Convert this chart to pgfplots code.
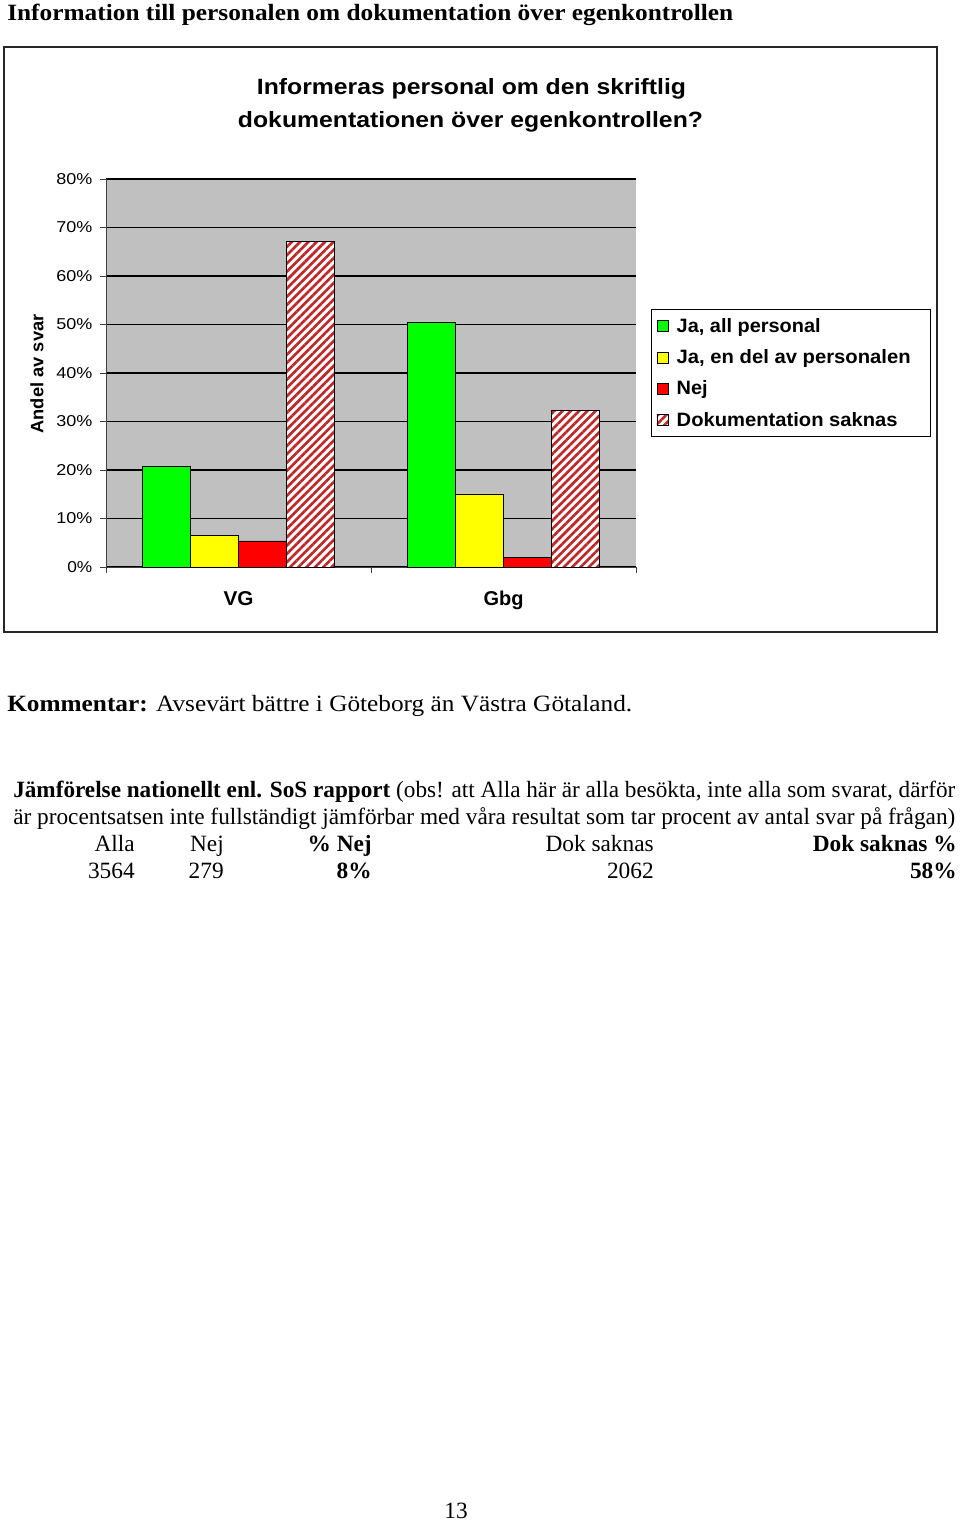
\documentclass[border=0pt]{standalone}
\usepackage{pgfplots}
\pgfplotsset{compat=1.18}
\usepackage{graphicx}
\usepackage{fontspec}
\setmainfont{Liberation Serif}
\newfontfamily\arial{Liberation Sans}
\usetikzlibrary{patterns.meta}

\definecolor{plotgray}{RGB}{192,192,192}
\definecolor{barGreen}{RGB}{0,255,0}
\definecolor{barYellow}{RGB}{255,255,0}
\definecolor{barRed}{RGB}{255,0,0}
\definecolor{hatchRed}{RGB}{190,40,40}

\newcommand\fitw[2]{\resizebox{#1}{\height}{#2}}

\pgfplotsset{sq/.style={legend image code/.code={\draw[##1, draw=black, line width=0.4pt] (0pt,-4.1pt) rectangle (8.2pt,4.1pt);}}}

\begin{document}
\begin{tikzpicture}
\begin{scope}[x=0.75pt,y=-0.75pt, every node/.style={inner sep=0pt, font=\fontsize{17.5pt}{20pt}\selectfont}]
\path[use as bounding box] (0,0) rectangle (960,1521);
\draw[line width=1.5pt, black!85] (4,47) rectangle (937,632);
\node[anchor=base west] at (7,20.7) {\fitw{544.5pt}{\bfseries Information till personalen om dokumentation över egenkontrollen}};
\node[anchor=base, font=\arial\bfseries\fontsize{16.6pt}{19pt}\selectfont] at (471.5,94) {\fitw{321.75pt}{Informeras personal om den skriftlig}};
\node[anchor=base, font=\arial\bfseries\fontsize{16.6pt}{19pt}\selectfont] at (470.5,127) {\fitw{348.75pt}{dokumentationen över egenkontrollen?}};
\node[anchor=base, rotate=90, font=\arial\bfseries\fontsize{13.5pt}{16pt}\selectfont] at (43.3,374) {\fitw{89.25pt}{Andel av svar}};
\node[anchor=base west] at (7,711) {\fitw{468.75pt}{\textbf{Kommentar:} Avsevärt bättre i Göteborg än Västra Götaland.}};
\node[anchor=base west] at (13,797) {\fitw{706.5pt}{\textbf{Jämförelse nationellt enl. SoS rapport} (obs! att Alla här är alla besökta, inte alla som svarat, därför}};
\node[anchor=base west] at (13,824) {\fitw{706.5pt}{är procentsatsen inte fullständigt jämförbar med våra resultat som tar procent av antal svar på frågan)}};
\node[anchor=base east] at (135,851) {Alla};
\node[anchor=base east] at (224,851) {Nej};
\node[anchor=base east] at (372,851) {\textbf{\% Nej}};
\node[anchor=base east] at (654,851) {Dok saknas};
\node[anchor=base east] at (957,851) {\textbf{Dok saknas \%}};
\node[anchor=base east] at (135,878) {3564};
\node[anchor=base east] at (224,878) {279};
\node[anchor=base east] at (372,878) {\textbf{8\%}};
\node[anchor=base east] at (654,878) {2062};
\node[anchor=base east] at (957,878) {\textbf{58\%}};
\node[anchor=base] at (456,1518) {13};
\end{scope}
\begin{axis}[
  at={(79.5pt,-425.25pt)}, anchor=south west,
  scale only axis, width=397.5pt, height=291pt,
  xmin=0.5, xmax=2.5, ymin=0, ymax=0.8,
  axis x line=bottom, axis y line=left,
  axis line style={-, black!75, line width=0.7pt},
  axis background/.style={fill=plotgray},
  ymajorgrids, major grid style={black, line width=0.8pt},
  tick align=outside,
  major tick length=4.5pt,
  ytick={0,0.1,0.2,0.3,0.4,0.5,0.6,0.7,0.8},
  yticklabels={\fitw{18.75pt}{0\%},\fitw{27pt}{10\%},\fitw{27pt}{20\%},\fitw{27pt}{30\%},\fitw{27pt}{40\%},\fitw{27pt}{50\%},\fitw{27pt}{60\%},\fitw{27pt}{70\%},\fitw{27pt}{80\%}},
  yticklabel style={font=\arial\fontsize{11.8pt}{13pt}\selectfont, xshift=-2.25pt},
  ytick style={black!75, line width=0.6pt},
  xtick={0.5,1.5,2.5}, xticklabels={},
  xtick style={black!75, line width=0.6pt},
  extra x ticks={1,2},
  extra x tick labels={\fitw{22.5pt}{VG},\fitw{30pt}{Gbg}},
  extra x tick style={xtick style={draw=none}, xticklabel style={font=\arial\bfseries\fontsize{15pt}{18pt}\selectfont, anchor=base, yshift=-24pt}},
  ybar, bar width=0.181,
  legend style={at={(1.028,0.665)}, anchor=north west, draw=black, fill=white, line width=0.6pt,
    font=\arial\bfseries\fontsize{14.5pt}{17pt}\selectfont, row sep=7.5pt, inner xsep=4pt, inner ysep=4.5pt,
    /tikz/every odd column/.append style={column sep=4.5pt}},
  legend cell align=left,
]
\addplot[fill=barGreen, draw=black, bar shift=-0.2715, sq] coordinates {(1,0.208) (2,0.505)};
\addplot[fill=barYellow, draw=black, bar shift=-0.0905, sq] coordinates {(1,0.066) (2,0.151)};
\addplot[fill=barRed, draw=black, bar shift=0.0905, sq] coordinates {(1,0.054) (2,0.020)};
\addplot[fill=white, draw=black, bar shift=0.2715, sq, postaction={pattern={Lines[angle=45,distance=4.4pt,line width=2pt]}, pattern color=hatchRed}] coordinates {(1,0.671) (2,0.323)};
\legend{\fitw{108pt}{Ja, all personal},\fitw{175.5pt}{Ja, en del av personalen}\hspace*{8.5pt},\fitw{23.25pt}{Nej},\fitw{165.75pt}{Dokumentation saknas}}
\end{axis}
\end{tikzpicture}
\end{document}
